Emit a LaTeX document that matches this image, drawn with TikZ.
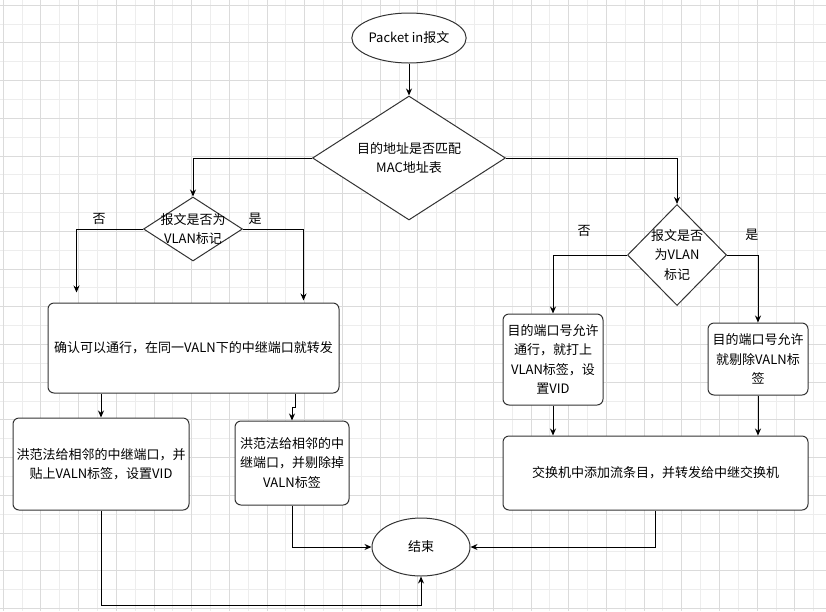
\documentclass[tikz,border=0pt]{standalone}
\usepackage{fontspec}
\setmainfont{Noto Sans CJK SC}
\usetikzlibrary{shapes.geometric, arrows.meta, positioning}

\begin{document}
\begin{tikzpicture}[
    x=1pt, y=-1pt,
    font=\fontsize{13pt}{19.5pt}\selectfont,
    proc/.style={rectangle, draw=black!80, line width=1pt, fill=white, rounded corners=6pt, align=center, inner sep=2pt},
    decision/.style={diamond, draw=black!80, line width=1pt, fill=white, inner sep=0pt},
    terminal/.style={ellipse, draw=black!80, line width=1pt, fill=white, inner sep=0pt},
    arrow/.style={-{Stealth[length=7pt, width=6pt]}, line width=1pt},
    branch/.style={inner sep=1pt},
    gridminor/.style={black!7, line width=0.6pt},
    gridmajor/.style={black!14, line width=0.6pt}
]
\useasboundingbox (0,0) rectangle (826,611);

% Background grid
\begin{scope}[y=1pt, shift={(3,-5)}]
\draw[gridminor, step=18.85pt] (-3,-606) grid (823,5);
\draw[gridmajor, step=37.7pt] (-3,-606) grid (823,5);
\end{scope}

% Nodes
\node[terminal, minimum width=100pt, minimum height=50pt] (start) at (409,38) {Packet in报文};
\node[decision, minimum width=193pt, minimum height=124pt,
      label={[align=center]center:目的地址是否匹配\\MAC地址表}] (match) at (409,158) {};
\node[decision, minimum width=99pt, minimum height=64pt,
      label={[align=center]center:报文是否为\\VLAN标记}] (tagL) at (193,229) {};
\node[decision, minimum width=99pt, minimum height=101pt,
      label={[align=center]center:报文是否\\为VLAN\\标记}] (tagR) at (677,255) {};

\node[proc, minimum width=291pt, minimum height=90pt] (pass) at (193.5,348) {确认可以通行，在同一VALN下的中继端口就转发};
\node[proc, minimum width=176pt, minimum height=92pt] (floodtag) at (101,464) {洪范法给相邻的中继端口，并\\贴上VALN标签，设置VID};
\node[proc, minimum width=114pt, minimum height=84pt] (floodstrip) at (292,463) {洪范法给相邻的中\\继端口，并剔除掉\\VALN标签};

\node[proc, minimum width=100pt, minimum height=91pt] (settag) at (553,359.5) {目的端口号允许\\通行，就打上\\VLAN标签，设\\置VID};
\node[proc, minimum width=100pt, minimum height=72pt] (striptag) at (758,359) {目的端口号允许\\就剔除VALN标\\签};
\node[proc, minimum width=305pt, minimum height=74pt] (flow) at (655.5,473) {交换机中添加流条目，并转发给中继交换机};

\node[terminal, minimum width=98pt, minimum height=58pt] (end) at (421,547) {结束};

% Connectors
\draw[arrow] (start) -- (match);
\draw[arrow] (match.west) -| (tagL.north);
\draw[arrow] (match.east) -| (tagR.north);

\draw[arrow, shorten >=10pt] (tagL.west) -| node[branch, pos=0.33, above=3pt] {否} ([xshift=29pt]pass.north west);
\draw[arrow, shorten >=2pt] (tagL.east) -| node[branch, pos=0.1, above=3pt] {是} ([xshift=-36pt]pass.north east);
\draw[arrow] (tagR.west) -| node[branch, pos=0.29, above=17pt] {否} (settag.north);
\draw[arrow] (tagR.east) -| node[branch, pos=0.4, above=13pt] {是} (striptag.north);

\draw[arrow] (pass.south -| floodtag.north) -- (floodtag.north);
\draw[arrow] (pass.south -| floodstrip.north) ++(3,0) -- ++(0,14) -| (floodstrip.north);

\draw[arrow] (settag.south) -- (settag.south |- flow.north);
\draw[arrow] (striptag.south) -- (striptag.south |- flow.north);

\draw[arrow] (floodtag.south) |- ([yshift=-29pt]end.south) -- (end.south);
\draw[arrow] (floodstrip.south) |- (end.west);
\draw[arrow] (flow.south) |- (end.east);

\end{tikzpicture}
\end{document}
